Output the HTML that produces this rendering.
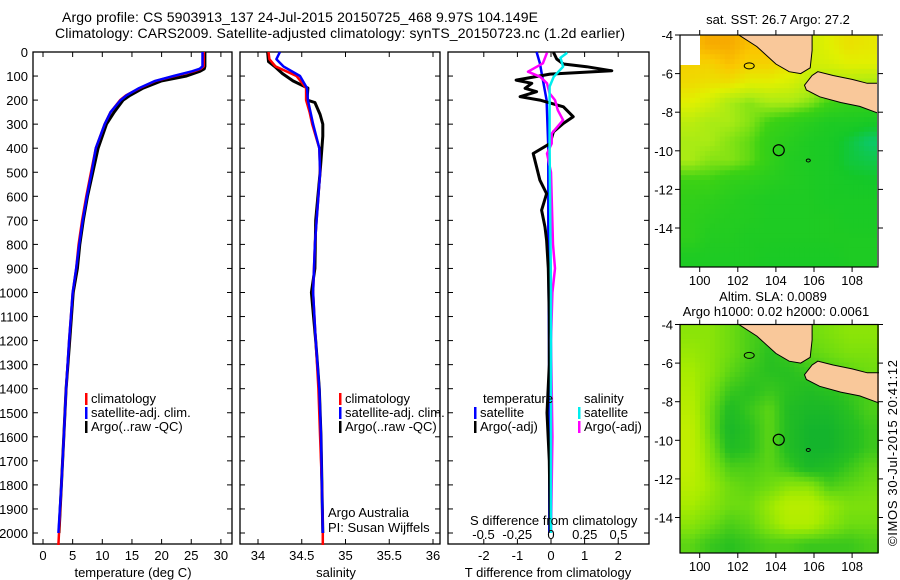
<!DOCTYPE html>
<html><head><meta charset="utf-8"><style>
body{margin:0;background:#fff;}
svg{display:block;font-family:"Liberation Sans",sans-serif;}
text{fill:#000;}
</style></head><body>
<svg id="fig" width="900" height="580" viewBox="0 0 900 580" xmlns="http://www.w3.org/2000/svg">
<defs>
<clipPath id="c1"><rect x="680" y="35" width="197" height="232"/></clipPath>
<clipPath id="c2"><rect x="680" y="324" width="199" height="229"/></clipPath>
</defs>
<text x="300" y="22" font-size="14" text-anchor="middle" textLength="476">Argo profile: CS 5903913_137 24-Jul-2015 20150725_468 9.97S 104.149E</text>
<text x="340" y="38" font-size="14" text-anchor="middle" textLength="570">Climatology: CARS2009. Satellite-adjusted climatology: synTS_20150723.nc (1.2d earlier)</text>
<text x="778" y="24" font-size="13" text-anchor="middle">sat. SST: 26.7 Argo: 27.2</text>
<text x="773" y="301" font-size="13" text-anchor="middle">Altim. SLA: 0.0089</text>
<text x="776" y="316" font-size="13" text-anchor="middle">Argo h1000: 0.02 h2000: 0.0061</text>
<text transform="translate(897,546) rotate(-90)" font-size="13" textLength="186">©IMOS 30-Jul-2015 20:41:12</text>
<g id="plots"></g>
</svg>
<script>
// ---- profile data ----
const depthT = [0,60,70,80,100,120,150,180,200,250,300,400,500,600,700,800,900,1000,1200,1400,1600,1800,2000,2050];
const climT  = [27.1,27.1,26.6,25.5,22.2,19.0,16.3,14.0,13.0,11.4,10.4,8.9,8.1,7.3,6.6,6.0,5.6,5.0,4.4,3.9,3.5,3.1,2.7,2.6];
const depthTs = [0,60,70,80,100,120,150,180,200,250,300,400,500,600,700,800,900,1000,1200,1400,1600,1800,2000];
const satT   = [26.9,26.9,26.4,25.2,22.0,18.9,16.2,14.1,13.1,11.4,10.4,8.9,8.2,7.4,6.7,6.1,5.6,5.0,4.4,3.9,3.5,3.1,2.6];
const depthTa = [0,60,70,80,100,120,150,180,200,250,300,400,500,600,700,800,900,1000,1200,1400,1600,1800,2000];
const argoT  = [27.3,27.3,27.2,26.5,24.2,20.0,16.9,14.7,13.5,12.0,10.7,9.3,8.4,7.5,6.8,6.2,5.8,5.1,4.5,3.9,3.5,3.1,2.7];

const depthS = [0,30,60,100,150,200,250,300,400,500,600,700,800,900,1000,1200,1400,1600,1800,2000,2050];
const climS  = [34.12,34.13,34.20,34.44,34.55,34.55,34.59,34.62,34.70,34.71,34.69,34.67,34.65,34.64,34.63,34.66,34.69,34.71,34.73,34.74,34.74];
const depthSs = [0,30,60,100,150,200,250,300,400,500,600,700,800,900,1000,1200,1400,1600,1800,2000];
const satS   = [34.25,34.21,34.29,34.48,34.56,34.57,34.60,34.63,34.70,34.71,34.69,34.67,34.65,34.64,34.63,34.66,34.70,34.72,34.73,34.74];
const depthSa = [0,40,60,90,120,150,200,210,260,300,350,400,500,700,900,1000,1200,1400,1600,1800,2000];
const argoS  = [34.11,34.12,34.19,34.28,34.40,34.57,34.56,34.65,34.71,34.74,34.74,34.73,34.71,34.66,34.65,34.61,34.66,34.70,34.72,34.73,34.74];

const depthD1 = [1,29,50,61,78,92,117,130,151,165,186,200,228,269,297,332,381,422,478,533,589,658,728,783,900,1100,1300,1500,1700,2000];
const argoTd  = [0.07,0.17,0.37,1.06,1.81,-0.03,-1.04,-0.57,-0.77,-0.43,-0.92,-0.33,0.37,0.66,0.37,0.07,-0.03,-0.53,-0.43,-0.33,-0.13,-0.28,-0.18,-0.13,-0.08,-0.05,-0.05,-0.12,-0.05,-0.02];
const depthD2 = [0,47,87,200,400,800,1200,1600,2000];
const satTd   = [-0.43,-0.33,-0.28,-0.13,-0.08,-0.08,-0.06,-0.05,-0.05];
const depthD3 = [3,47,82,103,130,172,200,242,283,339,381,422,500,800,900,1000,1200,1600,2000];
const argoSd  = [-0.03,-0.06,-0.17,-0.08,-0.03,-0.01,0.03,0.05,0.09,0.005,0.005,-0.03,0.0,0.015,0.03,0.01,0.0,0.01,0.0];
const depthD4 = [3,24,61,103,144,400,1000,2000];
const satSd   = [0.12,0.07,0.09,0.02,-0.01,-0.01,0.0,0.0];

const depthTicks = [0,100,200,300,400,500,600,700,800,900,1000,1100,1200,1300,1400,1500,1600,1700,1800,1900,2000];
const tTicks = [0,5,10,15,20,25,30];
const sTicks = [34,34.5,35,35.5,36];
const sTickLabels = ["34","34.5","35","35.5","36"];
const tdTicks = [-2,-1,0,1,2];
const sdTicks = [-0.5,-0.25,0,0.25,0.5];
const sdTickLabels = ["-0.5","-0.25","0","0.25","0.5"];

// ---- map data (normalized colour index) ----
const lonTicks = [100,102,104,106,108];
const latTicks = [-4,-6,-8,-10,-12,-14];
const sstGrid = [
[.9,.95,.95,.9,.9,.85,.7,.75,.8,.78],
[.85,.85,.9,.85,.85,.8,.7,.72,.75,.75],
[.82,.8,.8,.75,.75,.72,.65,.6,.62,.6],
[.75,.7,.6,.55,.6,.6,.55,.45,.4,.4],
[.65,.6,.6,.55,.45,.4,.35,.3,.3,.28],
[.6,.6,.55,.5,.4,.35,.3,.28,.22,.15],
[.6,.55,.55,.5,.4,.32,.3,.28,.22,.2],
[.45,.45,.4,.38,.35,.32,.3,.28,.26,.25],
[.4,.38,.35,.32,.3,.3,.3,.28,.28,.28],
[.38,.35,.33,.32,.3,.3,.3,.3,.28,.28],
[.38,.32,.32,.3,.3,.3,.3,.3,.3,.3],
[.3,.3,.3,.3,.28,.28,.28,.28,.3,.3]];
const slaGrid = [
[.6,.6,.5,.4,.35,.4,.5,.55,.6,.6],
[.65,.6,.5,.4,.3,.35,.45,.5,.55,.55],
[.7,.6,.45,.35,.3,.3,.35,.4,.45,.5],
[.75,.55,.35,.3,.35,.3,.25,.3,.35,.4],
[.8,.5,.25,.35,.45,.25,.2,.2,.3,.4],
[.85,.5,.2,.3,.45,.25,.15,.15,.25,.35],
[.85,.55,.25,.3,.45,.25,.15,.15,.25,.35],
[.85,.6,.4,.4,.45,.35,.2,.25,.35,.45],
[.8,.65,.5,.45,.5,.6,.6,.4,.45,.5],
[.7,.6,.5,.5,.65,.8,.8,.65,.55,.55],
[.6,.5,.4,.45,.6,.75,.75,.6,.5,.5],
[.45,.35,.3,.35,.4,.4,.35,.35,.35,.4]];
const sumatraLon = [101.9,103.0,104.0,104.7,105.3,105.8,105.9,105.9];
const sumatraLat = [-3.9,-4.6,-5.5,-5.9,-6.0,-5.7,-4.8,-3.9];
const javaLon = [105.5,105.9,106.2,107.0,108.0,108.8,109.5,109.5,108.4,107.4,106.3,105.6];
const javaLat = [-6.6,-6.1,-5.9,-6.1,-6.3,-6.5,-6.5,-8.1,-7.7,-7.5,-7.2,-6.85];
const argoLon = 104.149, argoLat = -9.97;

const NS="http://www.w3.org/2000/svg";
const root=document.getElementById('plots');
function el(tag,attrs,parent){const e=document.createElementNS(NS,tag);for(const k in attrs)e.setAttribute(k,attrs[k]);(parent||root).appendChild(e);return e;}
function txt(x,y,s,size,anchor,parent){const t=el('text',{x:x,y:y,'font-size':size,'text-anchor':anchor||'start'},parent);t.textContent=s;return t;}

const TOP=52, BOT=544;
const yD=d=>52+d*0.2405;
const xT=v=>43+v*5.93;
const xS=v=>258+(v-34)*87.5;
const xTd=v=>551+v*33.6;
const xSd=v=>551+v*135;

function panel(name,x0,x1){
  const g=el('g',{});
  
  
  const r=el('rect',{x:x0,y:TOP,width:x1-x0,height:BOT-TOP,fill:'none',stroke:'#000','stroke-width':1.3},g);
  
  
  depthTicks.forEach(d=>{el('line',{x1:x0,x2:x0+5,y1:yD(d),y2:yD(d),stroke:'#000'},g);el('line',{x1:x1,x2:x1-5,y1:yD(d),y2:yD(d),stroke:'#000'},g);});
  return g;
}
function line(g,name,xs,ds,fx,color,w){
  const pts=xs.map((v,i)=>fx(v).toFixed(1)+','+yD(ds[i]).toFixed(1)).join(' ');
  const p=el('polyline',{points:pts,fill:'none',stroke:color,'stroke-width':w,'stroke-linejoin':'round'},g);
  
  
}
function xticks(g,ticks,labels,fx,ylab){
  ticks.forEach((t,i)=>{const x=fx(t);el('line',{x1:x,x2:x,y1:BOT,y2:BOT-5,stroke:'#000'},g);el('line',{x1:x,x2:x,y1:TOP,y2:TOP+5,stroke:'#000'},g);
    const tl=txt(x,ylab,labels?labels[i]:String(t),13,'middle',g);
    
    });
}
function legend(g,items,x,y0){
  items.forEach((it,i)=>{const y=y0+i*14;el('rect',{x:x,y:y-10,width:2.5,height:12,fill:it[1]},g);
    const t=txt(x+6,y,it[0],13,'start',g);
    
    });
}

// depth labels
const dl=el('g',{});


depthTicks.forEach(d=>txt(28,yD(d)+5,String(d),13,'end',dl));

// Panel 1 temperature
const p1=panel('temperature-panel',33,232);
line(p1,'temp-argo-line',argoT,depthTa,xT,'#000',3);
line(p1,'temp-climatology-line',climT,depthT,xT,'#f00',2.5);
line(p1,'temp-satellite-line',satT,depthTs,xT,'#00f',2.5);
xticks(p1,tTicks,null,xT,560);
let t1=txt(133,577,'temperature (deg C)',13,'middle',p1);


legend(p1,[['climatology','#f00'],['satellite-adj. clim.','#00f'],['Argo(..raw -QC)','#000']],85,403);

// Panel 2 salinity
const p2=panel('salinity-panel',240,440);
line(p2,'sal-argo-line',argoS,depthSa,xS,'#000',3);
line(p2,'sal-climatology-line',climS,depthS,xS,'#f00',2.5);
line(p2,'sal-satellite-line',satS,depthSs,xS,'#00f',2.5);
xticks(p2,sTicks,sTickLabels,xS,560);
let t2=txt(336,577,'salinity',13,'middle',p2);


legend(p2,[['climatology','#f00'],['satellite-adj. clim.','#00f'],['Argo(..raw -QC)','#000']],339,403);
txt(328,517,'Argo Australia',13,'start',p2);
txt(328,532,'PI: Susan Wijffels',13,'start',p2);

// Panel 3 differences
const p3=panel('difference-panel',448,649);
line(p3,'tdiff-satellite-line',satTd,depthD2,xTd,'#00f',2.5);
line(p3,'tdiff-argo-line',argoTd,depthD1,xTd,'#000',3);
line(p3,'sdiff-argo-line',argoSd,depthD3,xSd,'#f0f',2.5);
line(p3,'sdiff-satellite-line',satSd,depthD4,xSd,'#0ee',2.5);
xticks(p3,tdTicks,null,xTd,560);
sdTicks.forEach((t,i)=>{const tl=txt(xSd(t),539,sdTickLabels[i],13,'middle',p3);
  
  });
txt(470,525,'S difference from climatology',13,'start',p3);
let t3=txt(548,577,'T difference from climatology',13,'middle',p3);


txt(483,403,'temperature',13,'start',p3);
txt(584,403,'salinity',13,'start',p3);
legend(p3,[['satellite','#00f'],['Argo(-adj)','#000']],474,417);
legend(p3,[['satellite','#0ee'],['Argo(-adj)','#f0f']],578,417);

// ---- maps ----
const xLon=lon=>699.7+(lon-100)*19.05;
function lerpC(stops,v){v=Math.max(0,Math.min(1,v));for(let i=1;i<stops.length;i++){if(v<=stops[i][0]){const a=stops[i-1],b=stops[i],f=(v-a[0])/(b[0]-a[0]);const c=[0,1,2].map(k=>Math.round(a[1][k]+(b[1][k]-a[1][k])*f));return 'rgb('+c.join(',')+')';}}return 'rgb('+stops[stops.length-1][1].join(',')+')';}
const sstStops=[[0,[0,200,200]],[0.25,[20,200,40]],[0.45,[60,210,20]],[0.6,[170,235,20]],[0.75,[225,240,0]],[0.88,[250,200,0]],[1,[245,150,0]]];
const slaStops=[[0,[0,168,56]],[0.3,[40,192,32]],[0.5,[110,220,16]],[0.7,[168,236,0]],[1,[216,240,0]]];
function drawMap(name,grid,stops,top,bottom,clip,showWhite){
  const g=el('g',{});
  
  
  const yLat=lat=>top+(-4-lat)*19.3;
  const cg=el('g',{'clip-path':'url(#'+clip+')'},g);
  const rows=grid.length, cols=grid[0].length, sub=4;
  const lon0=98.97, lon1=109.4, lat0=-4, lat1=-4-(bottom-top)/19.3;
  const dLon=(lon1-lon0)/(cols*sub), dLat=(lat0-lat1)/(rows*sub);
  for(let i=0;i<rows*sub;i++)for(let j=0;j<cols*sub;j++){
    const fy=(i+0.5)/sub-0.5, fx=(j+0.5)/sub-0.5;
    const i0=Math.max(0,Math.min(rows-1,Math.floor(fy))), i1=Math.min(rows-1,i0+1), j0=Math.max(0,Math.min(cols-1,Math.floor(fx))), j1=Math.min(cols-1,j0+1);
    const ay=Math.max(0,Math.min(1,fy-i0)), ax=Math.max(0,Math.min(1,fx-j0));
    const v=(grid[i0][j0]*(1-ax)+grid[i0][j1]*ax)*(1-ay)+(grid[i1][j0]*(1-ax)+grid[i1][j1]*ax)*ay;
    const x=xLon(lon0+j*dLon), y=yLat(lat0-i*dLat);
    const c=el('rect',{x:x.toFixed(1),y:y.toFixed(1),width:(dLon*19.05+0.6).toFixed(1),height:(dLat*19.3+0.6).toFixed(1),fill:lerpC(stops,v)},cg);
    
    
  }
  if(showWhite) el('rect',{x:680,y:top,width:20,height:30,fill:'#fff'},cg);
  const mk=(lons,lats,nm)=>{const p=el('polygon',{points:lons.map((l,i)=>xLon(l).toFixed(1)+','+yLat(lats[i]).toFixed(1)).join(' '),fill:'#f9c89a',stroke:'#000','stroke-width':1},cg);
    
    };
  mk(sumatraLon,sumatraLat,'sumatra-land');
  mk(javaLon,javaLat,'java-land');
  el('ellipse',{cx:xLon(102.6),cy:yLat(-5.6),rx:5,ry:3,fill:'none',stroke:'#000'},cg);
  el('ellipse',{cx:xLon(105.7),cy:yLat(-10.5),rx:2,ry:1.5,fill:'none',stroke:'#000'},cg);
  const m=el('circle',{cx:xLon(argoLon),cy:yLat(argoLat),r:5.5,fill:'none',stroke:'#000','stroke-width':1.2},g);
  
  
  el('rect',{x:680,y:top,width:198,height:bottom-top,fill:'none',stroke:'#000','stroke-width':1.2},g);
  latTicks.forEach(l=>{const y=yLat(l);el('line',{x1:680,x2:675,y1:y,y2:y,stroke:'#000'},g);el('line',{x1:878,x2:883,y1:y,y2:y,stroke:'#000'},g);
    const t=txt(673,y+5,String(l),13,'end',g);
    
    });
  lonTicks.forEach(l=>{const x=xLon(l);el('line',{x1:x,x2:x,y1:top,y2:top-5,stroke:'#000'},g);el('line',{x1:x,x2:x,y1:bottom,y2:bottom+5,stroke:'#000'},g);
    const t=txt(x,bottom+18,String(l),13,'middle',g);
    
    });
}
drawMap('sst-map',sstGrid,sstStops,35,267,'c1',true);
drawMap('sla-map',slaGrid,slaStops,324.5,553,'c2',false);
</script>
</body></html>
